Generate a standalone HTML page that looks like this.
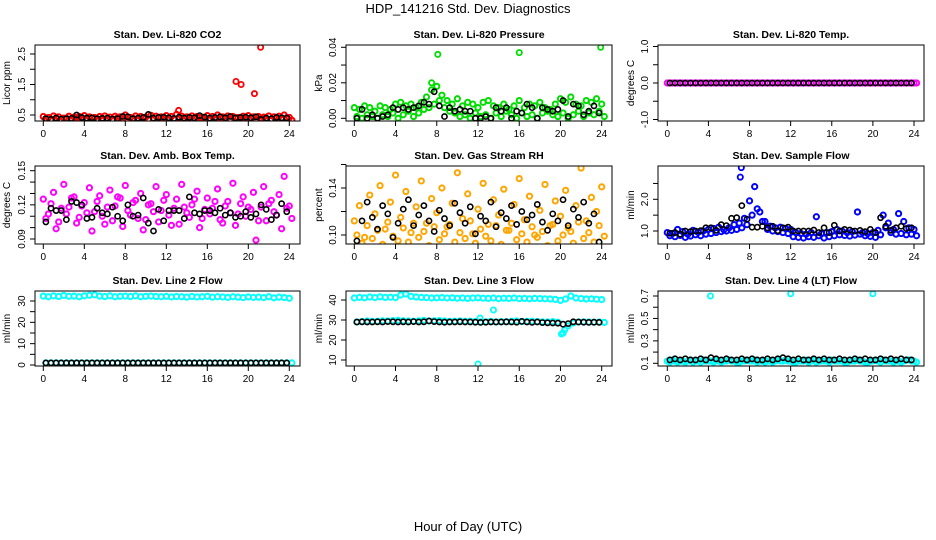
<!DOCTYPE html>
<html><head><meta charset="utf-8"><style>
html,body{margin:0;padding:0;background:#fff}
svg{display:block;font-family:"Liberation Sans",sans-serif}
</style></head><body>
<svg id="c" width="936" height="540" viewBox="0 0 936 540">
<text x="468" y="13" text-anchor="middle" font-size="13">HDP_141216  Std. Dev. Diagnostics</text>
<text x="468" y="531" text-anchor="middle" font-size="13">Hour of Day (UTC)</text>
</svg>
<script>
const hourTicks=[0,4,8,12,16,20,24];
const p1A=[0.45,0.42,0.47,0.44,0.40,0.46,0.43,0.45,0.48,0.44,0.42,0.45,0.47,0.43,0.46,0.44,0.50,0.42,0.47,0.45,0.43,0.49,0.46,0.44,0.48,0.45,0.52,0.46,0.44,0.47,0.45,0.43,0.48,0.45,0.50,0.44,0.47,0.45,0.42,0.46,0.48,0.44,0.45,0.43,0.47,0.44,0.46,0.50,0.42];
const p1B=[0.38,0.36,0.40,0.35,0.39,0.37,0.41,0.36,0.38,0.40,0.35,0.39,0.37,0.36,0.41,0.38,0.33,0.39,0.37,0.40,0.36,0.38,0.41,0.37,0.39,0.36,0.40,0.38,0.35,0.39,0.42,0.37,0.38,0.36,0.40,0.39,0.37,0.41,0.36,0.38,0.40,0.35,0.39,0.37,0.36,0.40,0.38,0.41,0.33];
const p1K=[0.38,0.36,0.40,0.37,0.38,0.39,0.50,0.42,0.40,0.41,0.38,0.39,0.40,0.37,0.38,0.45,0.44,0.38,0.40,0.42,0.52,0.40,0.42,0.43,0.41,0.39,0.43,0.40,0.42,0.41,0.48,0.43,0.40,0.42,0.44,0.41,0.45,0.40,0.42,0.43,0.41,0.44,0.35,0.40,0.38,0.42,0.41,0.40];
const p1ExX=[13.2,18.8,19.3,20.6,21.2];
const p1ExY=[0.65,1.6,1.5,1.2,2.72];
const p2A=[0.006,0.005,0.007,0.006,0.004,0.007,0.006,0.005,0.008,0.009,0.007,0.008,0.006,0.009,0.012,0.016,0.018,0.013,0.010,0.008,0.011,0.007,0.009,0.008,0.006,0.009,0.010,0.007,0.006,0.008,0.005,0.007,0.010,0.006,0.008,0.007,0.009,0.006,0.005,0.008,0.011,0.009,0.012,0.008,0.007,0.010,0.009,0.011,0.008];
const p2B=[0.001,0.000,0.002,0.001,0.000,0.002,0.001,0.003,0.000,0.002,0.004,0.001,0.003,0.005,0.006,0.008,0.010,0.006,0.004,0.003,0.001,0.002,0.000,0.003,0.001,0.002,0.000,0.003,0.001,0.004,0.002,0.000,0.003,0.001,0.002,0.000,0.003,0.004,0.002,0.001,0.003,0.000,0.002,0.004,0.001,0.003,0.002,0.004,0.001];
const p2K=[0.000,0.005,0.000,0.002,0.000,0.001,0.002,0.006,0.005,0.006,0.005,0.006,0.007,0.009,0.008,0.015,0.007,0.001,0.006,0.004,0.005,0.004,0.004,0.000,0.000,0.001,0.000,0.006,0.004,0.006,0.000,0.004,0.003,0.008,0.006,0.000,0.006,0.005,0.004,0.005,0.010,0.001,0.008,0.007,0.002,0.004,0.007,0.003];
const p2ExX=[7.5,8.1,16,23.9];
const p2ExY=[0.020,0.036,0.037,0.040];
const p3A=[0,0,0,0,0,0,0,0,0,0,0,0,0,0,0,0,0,0,0,0,0,0,0,0,0,0,0,0,0,0,0,0,0,0,0,0,0,0,0,0,0,0,0,0,0,0,0,0,0];
const p3B=[0,0,0,0,0,0,0,0,0,0,0,0,0,0,0,0,0,0,0,0,0,0,0,0,0,0,0,0,0,0,0,0,0,0,0,0,0,0,0,0,0,0,0,0,0,0,0,0,0];
const p3K=[0,0,0,0,0,0,0,0,0,0,0,0,0,0,0,0,0,0,0,0,0,0,0,0,0,0,0,0,0,0,0,0,0,0,0,0,0,0,0,0,0,0,0,0,0,0,0,0];
const p4A=[0.125,0.112,0.131,0.105,0.138,0.118,0.127,0.109,0.122,0.135,0.114,0.128,0.103,0.133,0.119,0.126,0.137,0.111,0.124,0.130,0.107,0.121,0.136,0.115,0.129,0.102,0.125,0.138,0.113,0.120,0.132,0.108,0.126,0.117,0.134,0.104,0.123,0.139,0.112,0.127,0.118,0.131,0.106,0.136,0.121,0.114,0.129,0.145,0.119];
const p4B=[0.108,0.121,0.099,0.117,0.112,0.126,0.104,0.119,0.113,0.097,0.123,0.110,0.118,0.106,0.127,0.101,0.115,0.122,0.108,0.098,0.120,0.114,0.105,0.124,0.111,0.117,0.103,0.118,0.109,0.125,0.100,0.116,0.112,0.123,0.107,0.119,0.113,0.102,0.121,0.110,0.116,0.089,0.118,0.106,0.124,0.111,0.099,0.117,0.108];
const p4K=[0.105,0.117,0.115,0.115,0.107,0.123,0.122,0.120,0.108,0.109,0.117,0.113,0.112,0.118,0.110,0.106,0.120,0.110,0.111,0.126,0.104,0.097,0.116,0.106,0.115,0.115,0.115,0.108,0.127,0.113,0.112,0.115,0.115,0.113,0.117,0.111,0.113,0.109,0.110,0.114,0.109,0.112,0.120,0.116,0.107,0.111,0.121,0.114];
const p5A=[0.112,0.125,0.098,0.134,0.118,0.142,0.105,0.128,0.151,0.115,0.137,0.102,0.124,0.146,0.110,0.131,0.119,0.140,0.107,0.127,0.153,0.114,0.135,0.101,0.122,0.144,0.109,0.130,0.117,0.139,0.104,0.126,0.148,0.113,0.133,0.100,0.121,0.143,0.108,0.129,0.116,0.138,0.103,0.125,0.157,0.112,0.132,0.120,0.141];
const p5B=[0.100,0.093,0.108,0.097,0.104,0.092,0.111,0.099,0.095,0.106,0.094,0.110,0.098,0.103,0.091,0.107,0.096,0.101,0.109,0.094,0.102,0.097,0.112,0.093,0.105,0.099,0.095,0.108,0.092,0.104,0.110,0.096,0.101,0.094,0.107,0.098,0.103,0.091,0.109,0.095,0.100,0.106,0.093,0.111,0.097,0.102,0.094,0.108,0.099];
const p5K=[0.095,0.112,0.128,0.115,0.105,0.125,0.118,0.098,0.110,0.122,0.130,0.108,0.117,0.125,0.112,0.103,0.121,0.114,0.108,0.127,0.119,0.110,0.124,0.101,0.116,0.112,0.128,0.107,0.119,0.114,0.125,0.109,0.120,0.113,0.117,0.126,0.111,0.104,0.118,0.112,0.130,0.108,0.122,0.115,0.128,0.110,0.118,0.094];
const p6A=[0.95,0.92,1.05,0.98,0.90,1.02,0.96,1.00,1.05,1.08,1.12,1.04,1.10,1.20,1.25,1.40,1.95,2.40,1.60,1.30,1.15,1.10,1.12,1.08,1.05,0.95,0.92,0.90,0.95,1.45,0.92,0.95,0.98,1.05,1.00,0.95,0.98,1.60,0.95,0.92,0.95,1.02,1.50,1.25,1.05,1.55,1.30,1.10,1.05];
const p6B=[0.85,0.82,0.86,0.80,0.84,0.88,0.85,0.90,0.92,0.95,0.98,1.00,1.02,1.05,1.10,1.20,1.50,1.70,1.30,1.05,1.00,0.98,0.95,0.92,0.82,0.80,0.78,0.82,0.80,0.85,0.78,0.82,0.85,0.88,0.86,0.84,0.87,0.90,0.85,0.83,0.80,0.88,1.10,0.95,0.90,0.92,0.88,0.90,0.85];
const p6K=[0.93,0.95,0.90,1.00,0.98,1.00,1.01,1.10,1.10,1.02,1.20,1.17,1.40,1.42,1.80,1.37,1.12,1.12,1.15,1.10,1.15,1.01,1.10,1.12,1.00,1.00,1.00,1.00,1.03,0.95,1.10,0.95,1.18,1.00,1.05,1.03,1.00,1.02,0.98,1.05,0.95,1.42,1.15,1.02,1.10,1.15,1.08,1.10];
const p6ExX=[7.1,7.2];
const p6ExY=[2.7,3.0];
const p7A=[32.3,32.0,32.4,32.1,32.6,32.2,32.3,32.0,32.4,32.7,32.9,32.3,32.1,32.4,32.0,32.2,32.3,32.1,32.4,32.0,32.2,32.3,32.1,32.0,32.2,31.9,32.1,32.0,31.8,32.1,31.9,32.0,32.2,31.8,32.0,31.9,31.7,32.0,31.8,31.6,31.9,31.7,31.8,31.6,32.0,31.5,31.8,31.6,31.3];
const p7B=[1,1,1,1,1,1,1,1,1,1,1,1,1,1,1,1,1,1,1,1,1,1,1,1,1,1,1,1,1,1,1,1,1,1,1,1,1,1,1,1,1,1,1,1,1,1,1,1,1];
const p7K=[1,1,1,1,1,1,1,1,1,1,1,1,1,1,1,1,1,1,1,1,1,1,1,1,1,1,1,1,1,1,1,1,1,1,1,1,1,1,1,1,1,1,1,1,1,1,1,1];
const p8A=[41.0,41.3,41.1,41.5,41.2,41.6,41.3,41.4,41.2,42.5,43.0,41.8,41.5,41.3,41.2,41.0,41.1,41.2,41.0,41.1,40.9,41.0,40.8,41.0,41.1,40.9,40.8,41.0,40.7,40.9,40.8,41.0,40.7,40.8,40.6,40.8,40.7,40.6,40.5,40.3,39.8,40.5,42.0,41.0,40.7,40.5,40.6,40.4,40.2];
const p8B=[29.0,29.2,29.5,29.3,29.4,29.6,29.5,29.7,29.8,29.6,29.5,29.4,29.6,29.8,29.5,29.6,29.7,29.5,29.3,29.4,29.5,29.3,29.4,29.2,29.0,29.1,29.3,29.0,29.2,29.1,29.4,29.5,29.2,29.3,29.4,29.2,29.1,29.0,29.2,28.9,23.5,27.0,28.5,29.0,29.1,29.0,28.9,29.0,28.8];
const p8K=[29.0,29.1,29.0,29.0,29.1,29.0,29.2,29.1,29.0,29.1,29.0,29.2,29.0,29.1,29.5,29.2,29.0,28.9,29.0,29.0,29.1,29.0,29.0,28.9,28.8,28.9,29.0,29.0,29.0,29.1,29.0,28.9,29.3,29.0,28.8,29.0,28.7,28.6,28.5,28.4,27.9,28.2,29.1,29.0,28.9,28.8,28.9,28.8];
const p8ExX=[12,12.2,13.5,20.1,20.4];
const p8ExY=[8,31,35,23,25];
const p9A=[0.12,0.13,0.11,0.12,0.12,0.11,0.12,0.13,0.12,0.11,0.12,0.12,0.13,0.12,0.11,0.12,0.12,0.13,0.12,0.11,0.12,0.12,0.12,0.13,0.12,0.11,0.12,0.13,0.12,0.11,0.12,0.12,0.13,0.12,0.12,0.11,0.12,0.13,0.12,0.11,0.12,0.12,0.13,0.12,0.11,0.12,0.12,0.13,0.12];
const p9B=[0.11,0.12,0.12,0.11,0.13,0.12,0.11,0.12,0.12,0.13,0.11,0.12,0.12,0.11,0.12,0.13,0.12,0.11,0.12,0.12,0.11,0.13,0.12,0.12,0.11,0.12,0.12,0.11,0.13,0.12,0.12,0.11,0.12,0.12,0.11,0.13,0.12,0.12,0.11,0.12,0.13,0.11,0.12,0.12,0.12,0.11,0.13,0.12,0.11];
const p9K=[0.13,0.14,0.13,0.14,0.13,0.13,0.14,0.13,0.15,0.14,0.13,0.14,0.13,0.13,0.14,0.13,0.14,0.13,0.13,0.14,0.13,0.14,0.15,0.14,0.13,0.14,0.13,0.13,0.14,0.13,0.14,0.13,0.13,0.14,0.13,0.13,0.14,0.13,0.14,0.13,0.13,0.14,0.13,0.14,0.13,0.14,0.13,0.13];
const p9ExX=[4.2,12,20];
const p9ExY=[0.70,0.72,0.72];

const NS='http://www.w3.org/2000/svg';
const svg=document.getElementById('c');
function mk(tag,attrs,parent){const e=document.createElementNS(NS,tag);for(const k in attrs)e.setAttribute(k,attrs[k]);(parent||svg).appendChild(e);return e;}

const cols=[{l:35,r:300,x0:43.3,x24:289.3,lab:10},{l:346,r:612,x0:354.3,x24:601.7,lab:322},{l:658,r:924,x0:667.3,x24:914,lab:634}];
const rows=[{t:45,b:121},{t:166,b:244},{t:291,b:366}];
const panels=[
 {c:0,r:0,name:'co2',title:'Stan. Dev. Li-820 CO2',ylab:'Licor ppm',color:'#ff0000',A:p1A,B:p1B,K:p1K,ex:[p1ExX,p1ExY],v1:0.5,py1:115,v2:2.5,py2:54,ticks:[0.5,1,1.5,2,2.5],labs:['0.5',null,'1.5',null,'2.5']},
 {c:1,r:0,name:'pressure',title:'Stan. Dev. Li-820 Pressure',ylab:'kPa',color:'#00dd00',A:p2A,B:p2B,K:p2K,ex:[p2ExX,p2ExY],v1:0,py1:118.3,v2:0.04,py2:47.3,ticks:[0,0.01,0.02,0.03,0.04],labs:['0.00',null,'0.02',null,'0.04']},
 {c:2,r:0,name:'li820-temp',title:'Stan. Dev. Li-820 Temp.',ylab:'degrees C',color:'#ff00ff',A:p3A,B:p3B,K:p3K,ex:[[],[]],v1:-1,py1:119.5,v2:1,py2:46.5,ticks:[-1,-0.5,0,0.5,1],labs:['-1.0',null,'0.0',null,'1.0']},
 {c:0,r:1,name:'amb-box-temp',title:'Stan. Dev. Amb. Box Temp.',ylab:'degrees C',color:'#ff00ff',A:p4A,B:p4B,K:p4K,ex:[[],[]],v1:0.09,py1:239,v2:0.15,py2:170.7,ticks:[0.09,0.10,0.11,0.12,0.13,0.14,0.15],labs:['0.09',null,null,'0.12',null,null,'0.15']},
 {c:1,r:1,name:'gas-stream-rh',title:'Stan. Dev. Gas Stream RH',ylab:'percent',color:'#ffa500',A:p5A,B:p5B,K:p5K,ex:[[],[]],v1:0.10,py1:235,v2:0.14,py2:188,ticks:[0.10,0.12,0.14,0.16],labs:['0.10',null,'0.14',null]},
 {c:2,r:1,name:'sample-flow',title:'Stan. Dev. Sample Flow',ylab:'ml/min',color:'#0000ff',A:p6A,B:p6B,K:p6K,ex:[p6ExX,p6ExY],v1:1,py1:231,v2:2,py2:199.3,ticks:[1,1.5,2,2.5],labs:['1.0',null,'2.0',null]},
 {c:0,r:2,name:'line2-flow',title:'Stan. Dev. Line 2 Flow',ylab:'ml/min',color:'#00ffff',A:p7A,B:p7B,K:p7K,ex:[[],[]],v1:0,py1:365,v2:30,py2:301,ticks:[0,5,10,15,20,25,30],labs:['0',null,'10',null,'20',null,'30']},
 {c:1,r:2,name:'line3-flow',title:'Stan. Dev. Line 3 Flow',ylab:'ml/min',color:'#00ffff',A:p8A,B:p8B,K:p8K,ex:[p8ExX,p8ExY],v1:10,py1:360,v2:40,py2:300,ticks:[10,20,30,40],labs:['10','20','30','40']},
 {c:2,r:2,name:'line4-flow',title:'Stan. Dev. Line 4 (LT) Flow',ylab:'ml/min',color:'#00ffff',A:p9A,B:p9B,K:p9K,ex:[p9ExX,p9ExY],v1:0.1,py1:363.3,v2:0.7,py2:296,ticks:[0.1,0.2,0.3,0.4,0.5,0.6,0.7],labs:['0.1',null,'0.3',null,'0.5',null,'0.7']}
];

panels.forEach(p=>{
  const C=cols[p.c],R=rows[p.r];
  const g=mk('g',{});
  
  
  const xs=h=>C.x0+(C.x24-C.x0)*h/24;
  const ys=v=>p.py1+(p.py2-p.py1)*(v-p.v1)/(p.v2-p.v1);
  const t=mk('text',{x:(C.l+C.r)/2,y:R.t-7,'text-anchor':'middle','font-size':'10.5','font-weight':'bold'},g);
  t.textContent=p.title;
  
  
  const yl=mk('text',{x:C.lab,y:(R.t+R.b)/2,'text-anchor':'middle','font-size':'10',transform:`rotate(-90 ${C.lab} ${(R.t+R.b)/2})`},g);
  yl.textContent=p.ylab;
  
  
  const clip='clip-'+p.name;
  const cp=mk('clipPath',{id:clip},g);
  mk('rect',{x:C.l,y:R.t,width:C.r-C.l,height:R.b-R.t},cp);
  const pts=mk('g',{'clip-path':`url(#${clip})`,fill:'none'},g);
  function dot(x,y,col,nm,sw){
    const c=mk('circle',{cx:x,cy:y,r:2.6,stroke:col,'stroke-width':sw},pts);
    
    
  }
  p.A.forEach((v,i)=>dot(xs(i*0.5),ys(v),p.color,'point-series',2));
  p.B.forEach((v,i)=>dot(xs(i*0.5+0.25),ys(v),p.color,'point-series',2));
  p.ex[0].forEach((h,i)=>dot(xs(h),ys(p.ex[1][i]),p.color,'point-outlier',1.8));
  p.K.forEach((v,i)=>dot(xs(i*0.5+0.25),ys(v),'#000','point-mean',1.6));
  const box=mk('rect',{x:C.l,y:R.t,width:C.r-C.l,height:R.b-R.t,fill:'none',stroke:'#000','stroke-width':'1'},g);
  
  
  const ax=mk('g',{stroke:'#000','stroke-width':'1'},g);
  
  
  mk('line',{x1:xs(0),x2:xs(24),y1:R.b,y2:R.b},ax);
  hourTicks.forEach(h=>{
    mk('line',{x1:xs(h),x2:xs(h),y1:R.b,y2:R.b+5},ax);
    const tl=mk('text',{x:xs(h),y:R.b+16,'text-anchor':'middle','font-size':'10',stroke:'none'},ax);
    tl.textContent=h;
  });
  const ay=mk('g',{stroke:'#000','stroke-width':'1'},g);
  
  
  mk('line',{x1:C.l,x2:C.l,y1:ys(p.ticks[0]),y2:ys(p.ticks[p.ticks.length-1])},ay);
  p.ticks.forEach((v,i)=>{
    const y=ys(v);
    mk('line',{x1:C.l-5,x2:C.l,y1:y,y2:y},ay);
    if(p.labs[i]!==null){
      const lx=C.l-10;
      const tl=mk('text',{x:lx,y:y,'text-anchor':'middle','font-size':'10',stroke:'none',transform:`rotate(-90 ${lx} ${y})`},ay);
      tl.textContent=p.labs[i];
    }
  });
});
</script>
</body></html>
